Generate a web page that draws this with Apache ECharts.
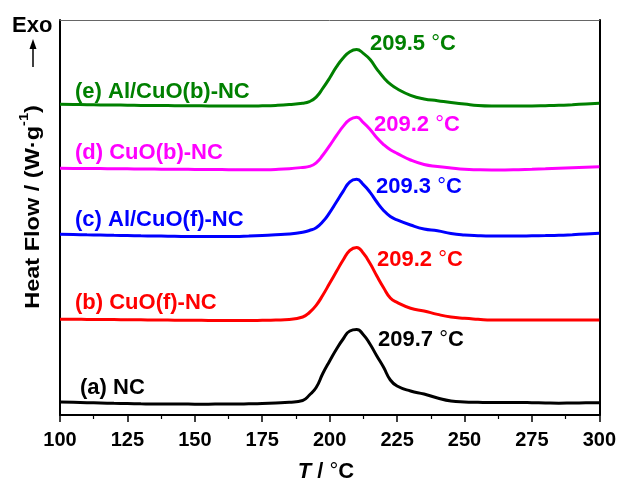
<!DOCTYPE html>
<html>
<head>
<meta charset="utf-8">
<script src="https://cdn.jsdelivr.net/npm/echarts@6/dist/echarts.min.js"></script>
<style>html,body{margin:0;padding:0;background:#fff}#c{width:619px;height:486px}</style>
</head>
<body>
<div id="c"></div>
<script>
// Temperature grid (°C)
var temps = [100,105,110,115,120,125,130,135,140,145,150,155,160,165,170,175,180,185,190,
             192.5,195,197.5,200,202.5,205,207.5,210,212.5,215,217.5,220,222.5,225,
             230,235,240,245,250,255,260,265,270,275,280,285,290,295,300];
// Heat flow curves (arbitrary offset units, curves stacked)
var nc     = [13,12.7,12.3,12,11.7,11.5,11.2,11,11,11,10.8,10.8,11,11,11.2,11.5,12,12.7,14.5,
              20,27.5,41.7,54,65.7,76,84,85.4,80.3,70.7,59,47.7,35,29,
              24,21,17,14,13,12.7,12.5,12.5,12.5,12.3,12,11.8,12,12.2,12.3];
var cuoF   = [95.7,95.7,95.6,95.5,95.4,95.3,95.2,95,94.9,94.8,94.7,94.6,94.5,94.5,94.5,94.7,95,95.5,98,
              102.5,109.7,120,131.7,143.4,155,164.6,167.6,161.7,151.4,139,127.3,117,112.6,
              106.8,104,100.6,98,96.7,95.8,95,95,95,95,95,95,95,95,95];
var alCuoF = [180.7,180.5,180.2,180,179.7,179.5,179.2,179,178.8,178.6,178.5,178.4,178.4,178.5,179,179.6,180.2,181,182.8,
              184.5,187.3,193.4,202.4,213,223.7,233.2,235.7,230.4,222.6,213,204.6,198.5,195.1,
              190,186,184.3,181.5,180,179.3,179,179,179,179.2,179.4,179.7,180.3,181,181.7];
var cuoB   = [246.7,246.6,246.5,246.4,246.3,246.2,246,245.9,245.8,245.7,245.6,245.5,245.4,245.3,245.2,245.3,245.6,246.3,247.6,
              248.6,252.2,260,269.4,279.3,288.6,295.4,297.7,292.3,285.5,277.2,270.4,265.2,261.6,
              255,250.5,248.5,247,245.7,245.2,245,245,245.3,245.7,246.2,246.8,247.3,247.8,248.3];
var alCuoB = [310.7,310.5,310.3,310.1,310,309.8,309.6,309.5,309.4,309.3,309.2,309.1,309,309,309,309.2,309.6,310.4,311.7,
              313.4,317.9,326.9,337,348.1,357.1,363.3,365.5,361.6,355.4,345.9,337.5,330.8,326.3,
              319.7,316,314.3,312.5,311,309.5,309,309,309,309,309.3,309.7,310.3,311,311.7];
var seriesNames = ['(a) NC','(b) CuO(f)-NC','(c) Al/CuO(f)-NC','(d) CuO(b)-NC','(e) Al/CuO(b)-NC'];
var peakLabels  = ['209.7','209.2','209.3','209.2','209.5'];
var xTicks = [100,125,150,175,200,225,250,275,300];

var colors = ['#000000','#ff0000','#0000ff','#ff00ff','#008000'];
var allData = [nc,cuoF,alCuoF,cuoB,alCuoB];
function pairs(v){return temps.map(function(t,i){return [t,v[i]];});}

var FONT = 'Arial, "Liberation Sans", sans-serif';
var series = allData.map(function(d,i){
  return {type:'line',data:pairs(d),smooth:0.5,showSymbol:false,
    lineStyle:{color:colors[i],width:3},itemStyle:{color:colors[i]},z:3};
});

// label anchor positions (pixels, styling only)
var namePos = [[80,388],[75,303],[75,220],[75,153],[75,92]];
var peakPos = [[378,340],[377,260],[376,187],[374,125],[370,44]];

var graphics = [];
seriesNames.forEach(function(n,i){
  graphics.push({type:'text',x:namePos[i][0],y:namePos[i][1],
    style:{text:n,fill:colors[i],font:'bold 22px '+FONT,verticalAlign:'middle'}});
  graphics.push({type:'text',x:peakPos[i][0],y:peakPos[i][1],
    style:{text:'{b|'+peakLabels[i]+' }{d|°}{b|C}',verticalAlign:'middle',
      rich:{b:{fill:colors[i],font:'bold 22px '+FONT},d:{fill:colors[i],font:'22px '+FONT}}}});
});
graphics.push({type:'text',x:12,y:26,style:{text:'Exo',fill:'#000',font:'bold 22px '+FONT,verticalAlign:'middle'}});
graphics.push({type:'line',shape:{x1:33,y1:67,x2:33,y2:46},style:{stroke:'#000',lineWidth:1.5}});
graphics.push({type:'polygon',shape:{points:[[29.5,49],[33,39],[36.5,49]]},style:{fill:'#000'}});
graphics.push({type:'text',x:326,y:472,
  style:{text:'{i|T}{n| / }{d|°}{n|C}',align:'center',verticalAlign:'middle',
    rich:{i:{font:'italic bold 22px '+FONT,fill:'#000'},n:{font:'bold 22px '+FONT,fill:'#000'},d:{font:'22px '+FONT,fill:'#000'}}}});
graphics.push({type:'text',x:31,y:207,rotation:Math.PI/2,scaleX:1.12,scaleY:1,
  style:{text:'{a|Heat Flow / (W·g}{s|-1}{a|)}',align:'center',verticalAlign:'middle',
    rich:{a:{font:'bold 21px '+FONT,fill:'#000',lineHeight:26,verticalAlign:'bottom'},
          s:{font:'bold 13px '+FONT,fill:'#000',lineHeight:26,verticalAlign:'top'}}}});

var chart = echarts.init(document.getElementById('c'),null,{renderer:'canvas'});
chart.setOption({
  animation:false,
  backgroundColor:'#fff',
  grid:{left:60,right:19,top:20,bottom:71,containLabel:false},
  xAxis:[{type:'value',min:100,max:300,interval:25,position:'bottom',
    axisLine:{onZero:false,lineStyle:{color:'#000',width:2}},
    axisTick:{show:true,length:7,lineStyle:{color:'#000',width:1.5}},
    minorTick:{show:true,splitNumber:2,length:4,lineStyle:{color:'#000',width:1.2}},
    splitLine:{show:false},
    axisLabel:{color:'#000',fontSize:20,fontWeight:'bold',fontFamily:FONT,margin:15,
      formatter:function(v){return xTicks.indexOf(v)>=0?String(v):'';}}},
    {type:'value',min:100,max:300,position:'top',
    axisLine:{onZero:false,lineStyle:{color:'#666',width:1}},axisTick:{show:false},axisLabel:{show:false},splitLine:{show:false}}],
  yAxis:[{type:'value',min:0,max:395,position:'left',
    axisLine:{show:true,onZero:false,lineStyle:{color:'#000',width:2}},
    axisTick:{show:false},axisLabel:{show:false},splitLine:{show:false}},
    {type:'value',min:0,max:395,position:'right',
    axisLine:{show:true,onZero:false,lineStyle:{color:'#000',width:2}},
    axisTick:{show:false},axisLabel:{show:false},splitLine:{show:false}}],
  series:series,
  graphic:graphics
});
</script>
</body>
</html>
